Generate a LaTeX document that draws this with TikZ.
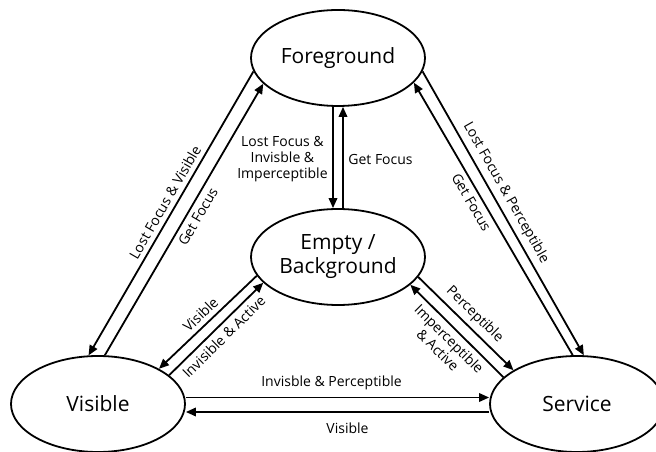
\documentclass[tikz,border=0pt]{standalone}
\usepackage{fontspec}
\setmainfont{Open Sans}
\usetikzlibrary{arrows.meta,shapes.geometric}
\begin{document}
\begin{tikzpicture}[x=1pt,y=1pt,
  state/.style={ellipse,draw,line width=1.8pt,minimum width=174pt,minimum height=96pt,inner sep=0pt,font=\fontsize{21}{24}\selectfont,align=center},
  tr/.style={line width=1.8pt,-{Triangle[length=10pt,width=8.5pt]}},
  lbl/.style={font=\fontsize{14}{16}\selectfont,align=center,inner sep=4.5pt}]
\useasboundingbox (0,0) rectangle (656,452);
\clip (0,0) rectangle (656,452);
\node[state] (fg) at (338,394) {Foreground};
\node[state] (em) at (338,195) {Empty /\\Background};
\node[state] (vis) at (98,48) {Visible};
\node[state] (srv) at (577,48) {Service};
% Foreground <-> Visible
\draw[tr] (fg.189) -- node[lbl,sloped,above,pos=0.48]{Lost Focus \& Visible} (vis.101);
\draw[tr] (vis.82) -- node[lbl,sloped,below,pos=0.53]{Get Focus} (fg.199);
% Foreground <-> Service
\draw[tr] (fg.351) -- node[lbl,sloped,above,pos=0.45]{Lost Focus \& Perceptible} (srv.82);
\draw[tr] (srv.95) -- node[lbl,sloped,below,pos=0.58]{Get Focus} (fg.342);
% Foreground <-> Empty
\draw[tr] ([xshift=-5pt]fg.south) -- node[lbl,left,yshift=-2pt]{Lost Focus \&\\Invisble \&\\Imperceptible} ([xshift=-5pt]em.north);
\draw[tr] ([xshift=5pt]em.north) -- node[lbl,right,yshift=-2pt]{Get Focus} ([xshift=5pt]fg.south);
% Empty <-> Visible
\draw[tr] (em.193) -- node[lbl,sloped,above]{Visible} (vis.30);
\draw[tr] (vis.22) -- node[lbl,sloped,below]{Invisible \& Active} (em.199);
% Empty <-> Service
\draw[tr] (em.346) -- node[lbl,sloped,above]{Perceptible} (srv.152);
\draw[tr] (srv.160) -- node[lbl,sloped,below]{Imperceptible\\\& Active} (em.339);
% Visible <-> Service
\draw[tr] ([yshift=6.5pt]vis.east) -- node[lbl,above=2pt,xshift=-6pt]{Invisble \& Perceptible} ([yshift=6.5pt]srv.west);
\draw[tr] ([yshift=-8pt]srv.west) -- node[lbl,below=5pt,xshift=10pt]{Visible} ([yshift=-8pt]vis.east);
\end{tikzpicture}
\end{document}
